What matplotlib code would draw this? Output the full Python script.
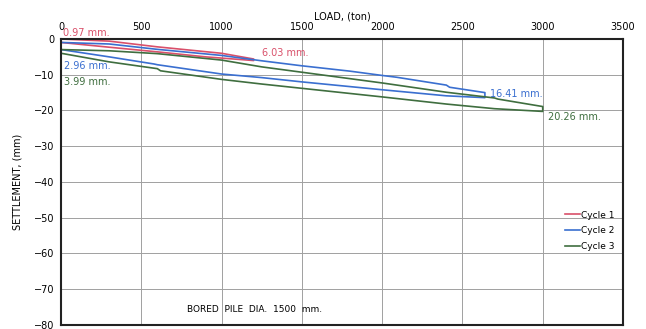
import matplotlib
matplotlib.use("Agg")
from matplotlib import pyplot as plt

# Cycle 1 (load up to 1200 t, hold, unload)
load1 = [0, 300, 600, 1000, 1200, 1200, 900, 600, 300, 0]
settle1 = [0, -0.6, -2.2, -4.0, -5.6, -6.03, -5.0, -3.6, -2.3, -0.97]

# Cycle 2 (load up to 2640 t, hold, unload)
load2 = [0, 300, 600, 1000, 1250, 1500, 1800, 2000, 2090, 2400, 2420, 2640, 2640,
         2400, 2000, 1500, 1250, 1000, 600, 580, 300, 0]
settle2 = [-0.97, -1.4, -2.9, -4.6, -6.1, -7.5, -9.0, -10.2, -10.7, -12.9, -13.5, -15.0, -16.41,
           -15.9, -14.2, -12.0, -10.8, -9.8, -7.2, -7.0, -5.0, -2.96]

# Cycle 3 (load up to 3000 t, hold, unload)
load3 = [0, 300, 600, 1000, 1250, 1500, 2000, 2400, 2700, 2720, 3000, 3000,
         2700, 2400, 2000, 1500, 1250, 1000, 620, 600, 300, 0]
settle3 = [-2.96, -3.3, -4.1, -5.9, -7.8, -9.3, -12.3, -14.9, -16.5, -16.8, -18.9, -20.26,
           -19.5, -18.2, -16.2, -13.8, -12.6, -11.3, -8.9, -8.3, -6.4, -3.99]

red = '#d9506a'
blue = '#3a6fd0'
green = '#3f6e3f'

fig = plt.figure(figsize=(6.46, 3.29), dpi=100)
ax = fig.add_axes([0.0944, 0.0122, 0.87, 0.8693])

ax.plot(load1, settle1, color=red, lw=1.2, label='Cycle 1')
ax.plot(load2, settle2, color=blue, lw=1.2, label='Cycle 2')
ax.plot(load3, settle3, color=green, lw=1.2, label='Cycle 3')

ax.set_xlim(0, 3500)
ax.set_ylim(-80, 0)
ax.set_xticks(range(0, 3501, 500))
ax.set_yticks(range(-80, 1, 10))
ax.xaxis.tick_top()
ax.xaxis.set_label_position('top')
ax.tick_params(length=0, labelsize=7, pad=5)
ax.set_xlabel('LOAD, (ton)', fontsize=7, labelpad=2)
ax.set_ylabel('SETTLEMENT, (mm)', fontsize=7, labelpad=8)
ax.grid(True, color='#a0a0a0', lw=0.7)
for s in ax.spines.values():
    s.set_linewidth(1.5)
    s.set_color('#222222')

# value labels
ax.text(15, 0.8, '0.97 mm.', color=red, fontsize=7, clip_on=False)
ax.text(1250, -4.8, '6.03 mm.', color=red, fontsize=7)
ax.text(20, -8.3, '2.96 mm.', color=blue, fontsize=7)
ax.text(20, -12.8, '3.99 mm.', color=green, fontsize=7)
ax.text(2670, -16.2, '16.41 mm.', color=blue, fontsize=7)
ax.text(3030, -22.6, '20.26 mm.', color=green, fontsize=7)

ax.text(1207, -75.8, 'BORED  PILE  DIA.  1500  mm.', fontsize=6.5, ha='center', va='center')

ax.legend(loc='lower right', bbox_to_anchor=(1.0, 0.23), frameon=False, fontsize=6.5,
          handlelength=1.6, handletextpad=0.2, labelspacing=0.75)

plt.savefig('out.png', dpi=100)
